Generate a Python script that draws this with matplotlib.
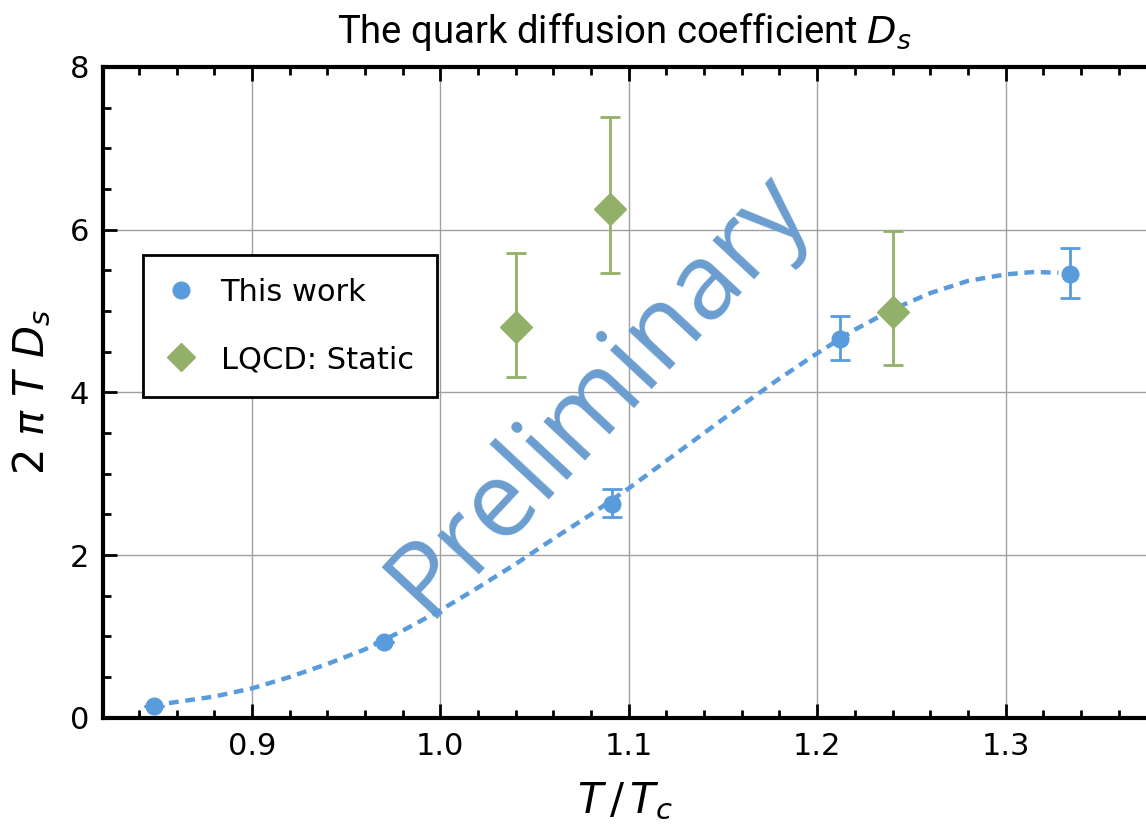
import matplotlib.pyplot as plt
from matplotlib.ticker import MultipleLocator

# données
# This work : points avec barres d'erreur
tw_x = [0.848, 0.970, 1.091, 1.212, 1.334]
tw_y = [0.15, 0.93, 2.63, 4.65, 5.46]
tw_err_bas = [0.0, 0.0, 0.16, 0.25, 0.30]
tw_err_haut = [0.0, 0.0, 0.18, 0.29, 0.32]

# LQCD statique
lq_x = [1.040, 1.090, 1.240]
lq_y = [4.80, 6.25, 4.99]
lq_err_bas = [0.61, 0.78, 0.66]
lq_err_haut = [0.91, 1.13, 0.99]

# courbe d'ajustement (pointillés)
fit_x = [0.856, 0.88, 0.90, 0.92, 0.94, 0.96, 0.98, 1.00, 1.02, 1.04, 1.06, 1.08, 1.10,
         1.12, 1.14, 1.16, 1.18, 1.20, 1.22, 1.24, 1.26, 1.28, 1.30, 1.315, 1.328]
fit_y = [0.18, 0.26, 0.36, 0.50, 0.66, 0.84, 1.07, 1.32, 1.60, 1.89, 2.20, 2.50, 2.82,
         3.16, 3.50, 3.84, 4.17, 4.48, 4.77, 5.02, 5.22, 5.37, 5.45, 5.48, 5.47]

bleu = '#5a9bdc'
vert = '#93b06a'

plt.rcParams['mathtext.fontset'] = 'dejavusans'

fig = plt.figure(figsize=(11.46, 8.30), dpi=100)
ax = fig.add_axes([0.0899, 0.1353, 0.9101, 0.784])

# grille
ax.grid(True, color='#a0a0a0', linewidth=1.0)
ax.set_axisbelow(True)

# filigrane
ax.text(1.084, 3.98, 'Preliminary', fontsize=76, family=['Open Sans', 'DejaVu Sans'],
        color='#6b9dd0', rotation=47, ha='center', va='center',
        rotation_mode='anchor', zorder=1)

ax.plot(fit_x, fit_y, color=bleu, linewidth=3.2, dashes=(2.2, 1.5), zorder=3)

ax.errorbar(tw_x, tw_y, yerr=[tw_err_bas, tw_err_haut], fmt='o', color=bleu,
            markersize=12, elinewidth=2, capsize=7, capthick=2, zorder=4,
            label='This work')
ax.errorbar(lq_x, lq_y, yerr=[lq_err_bas, lq_err_haut], fmt='D', color=vert,
            markersize=16, elinewidth=2, capsize=7, capthick=2, zorder=4,
            label='LQCD: Static')

ax.set_xlim(0.821, 1.3745)
ax.set_ylim(0, 8)

ax.xaxis.set_major_locator(MultipleLocator(0.1))
ax.xaxis.set_minor_locator(MultipleLocator(0.02))
ax.yaxis.set_major_locator(MultipleLocator(2))
ax.yaxis.set_minor_locator(MultipleLocator(0.5))
ax.xaxis.set_major_formatter(plt.FuncFormatter(lambda v, p: '%.1f' % v))

ax.tick_params(which='both', direction='in', top=True, right=False, width=2)
ax.tick_params(which='major', length=10, labelsize=22, pad=10)
ax.tick_params(which='minor', length=6)

for s in ['left', 'bottom', 'top']:
    ax.spines[s].set_linewidth(3)
ax.spines['right'].set_visible(False)

ax.set_xlabel(r'$T\,/\,T_c$', fontsize=30, labelpad=14)
ax.set_ylabel(r'$2\ \pi\ T\ D_s$', fontsize=30, labelpad=12)
ax.set_title(r'The quark diffusion coefficient $D_s$', fontsize=27.5, pad=17,
             family=['Roboto', 'DejaVu Sans'])

# légende sans barres d'erreur
h1, = ax.plot([], [], 'o', color=bleu, markersize=12)
h2, = ax.plot([], [], 'D', color=vert, markersize=14)
leg = ax.legend([h1, h2], ['This work', 'LQCD: Static'], loc='upper left',
                bbox_to_anchor=(0.038, 0.711), borderaxespad=0, fontsize=22,
                fancybox=False, framealpha=1, edgecolor='black',
                handlelength=1.0, handletextpad=0.8, labelspacing=1.25,
                borderpad=0.75)
leg.get_frame().set_linewidth(2)

fig.savefig('out.png', dpi=100)
